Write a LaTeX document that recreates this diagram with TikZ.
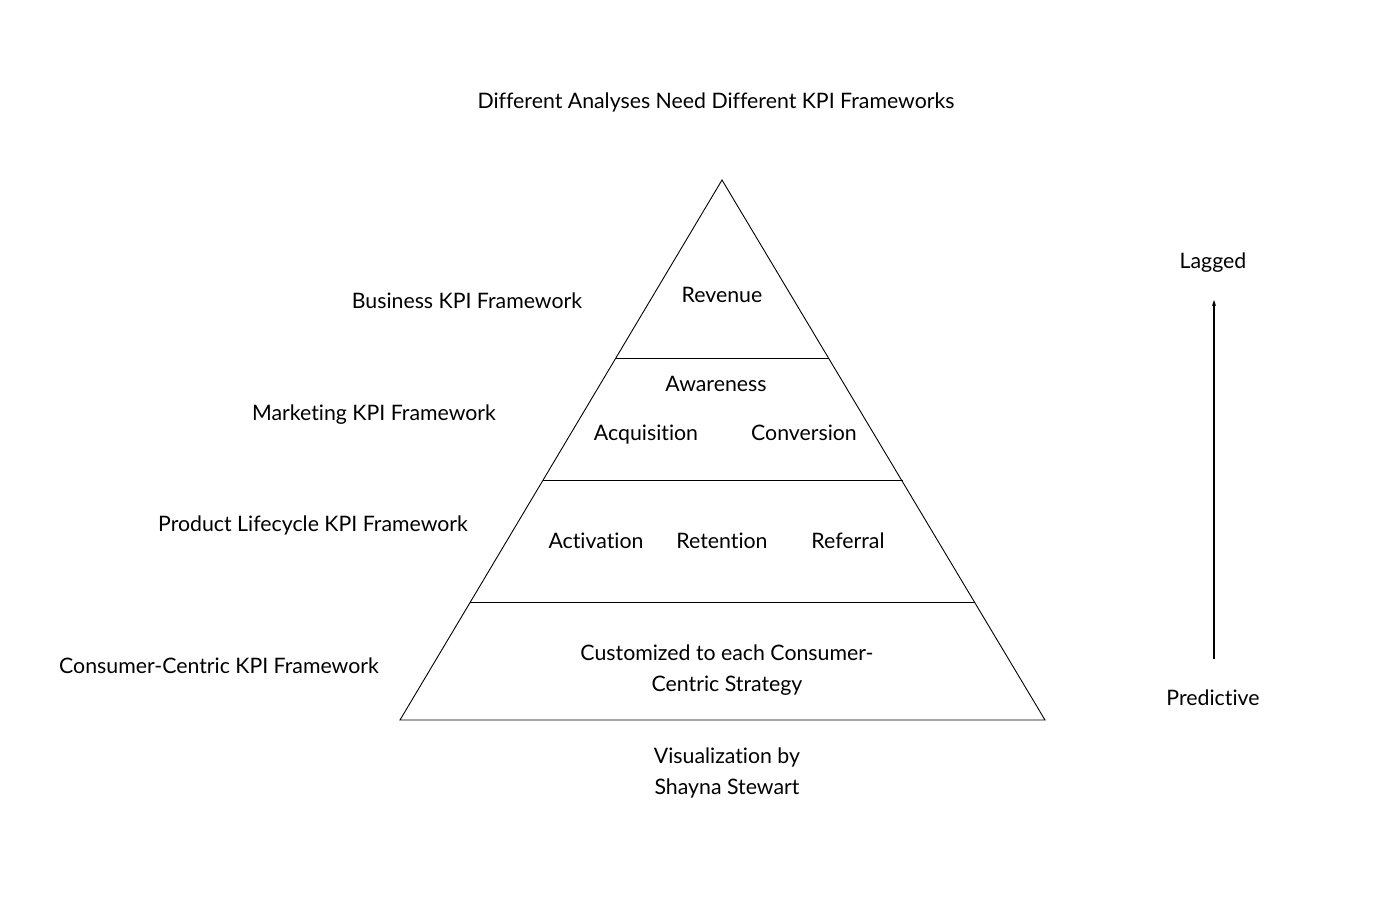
\documentclass[tikz,border=0pt]{standalone}
\usepackage{fontspec}
\setmainfont{Lato}[Ligatures={NoCommon,NoRare,NoDiscretionary}]
\usetikzlibrary{arrows.meta}
\begin{document}
\begin{tikzpicture}[x=1pt,y=-1pt,
  lbl/.style={font=\fontsize{21.3}{31}\selectfont, inner sep=0pt, anchor=center, text height=15pt, text depth=4pt},
  lbl2/.style={font=\fontsize{21.3}{31}\selectfont, inner sep=0pt, anchor=center},
  edge/.style={draw=black, line width=0.9pt}]
\useasboundingbox[fill=white] (0,0) rectangle (1400,909);
% pyramid
\coordinate (apex) at (722,180);
\coordinate (bl) at (400,720);
\coordinate (br) at (1045,720);
\draw[edge] (apex) -- (bl) -- (br) -- cycle;
\coordinate (l1) at (616,358); \coordinate (r1) at (829,358);
\coordinate (l2) at (543,480); \coordinate (r2) at (903,480);
\coordinate (l3) at (470,602); \coordinate (r3) at (975,602);
\draw[edge] (l1) -- (r1);
\draw[edge] (l2) -- (r2);
\draw[edge] (l3) -- (r3);
% texts
\node[lbl] (title) at (716,103) {Different Analyses Need Different KPI Frameworks};
\node[lbl] (rev) at (722,297) {Revenue};
\node[lbl] (awa) at (716,386) {Awareness};
\node[lbl] (acq) at (646,435) {Acquisition};
\node[lbl] (con) at (804,435) {Conversion};
\node[lbl] (act) at (596,543) {Activation};
\node[lbl] (ret) at (722,543) {Retention};
\node[lbl] (ref) at (848,543) {Referral};
\node[lbl2, align=center] (cus) at (727,670) {Customized to each Consumer-\\Centric Strategy};
\node[lbl2, align=center] (vis) at (727,773) {Visualization by\\Shayna Stewart};
\node[lbl] (bus) at (467,303) {Business KPI Framework};
\node[lbl] (mkt) at (374,415) {Marketing KPI Framework};
\node[lbl] (plc) at (313,526) {Product Lifecycle KPI Framework};
\node[lbl] (ccf) at (219,668) {Consumer-Centric KPI Framework};
\node[lbl] (lag) at (1213,263) {Lagged};
\node[lbl] (pre) at (1213,700) {Predictive};
\coordinate (abot) at (1214,659);
\coordinate (atop) at (1214,300);
\draw[line width=1.1pt, -{Stealth[length=6pt,width=4pt]}] (abot) -- (atop);
\end{tikzpicture}
\end{document}
